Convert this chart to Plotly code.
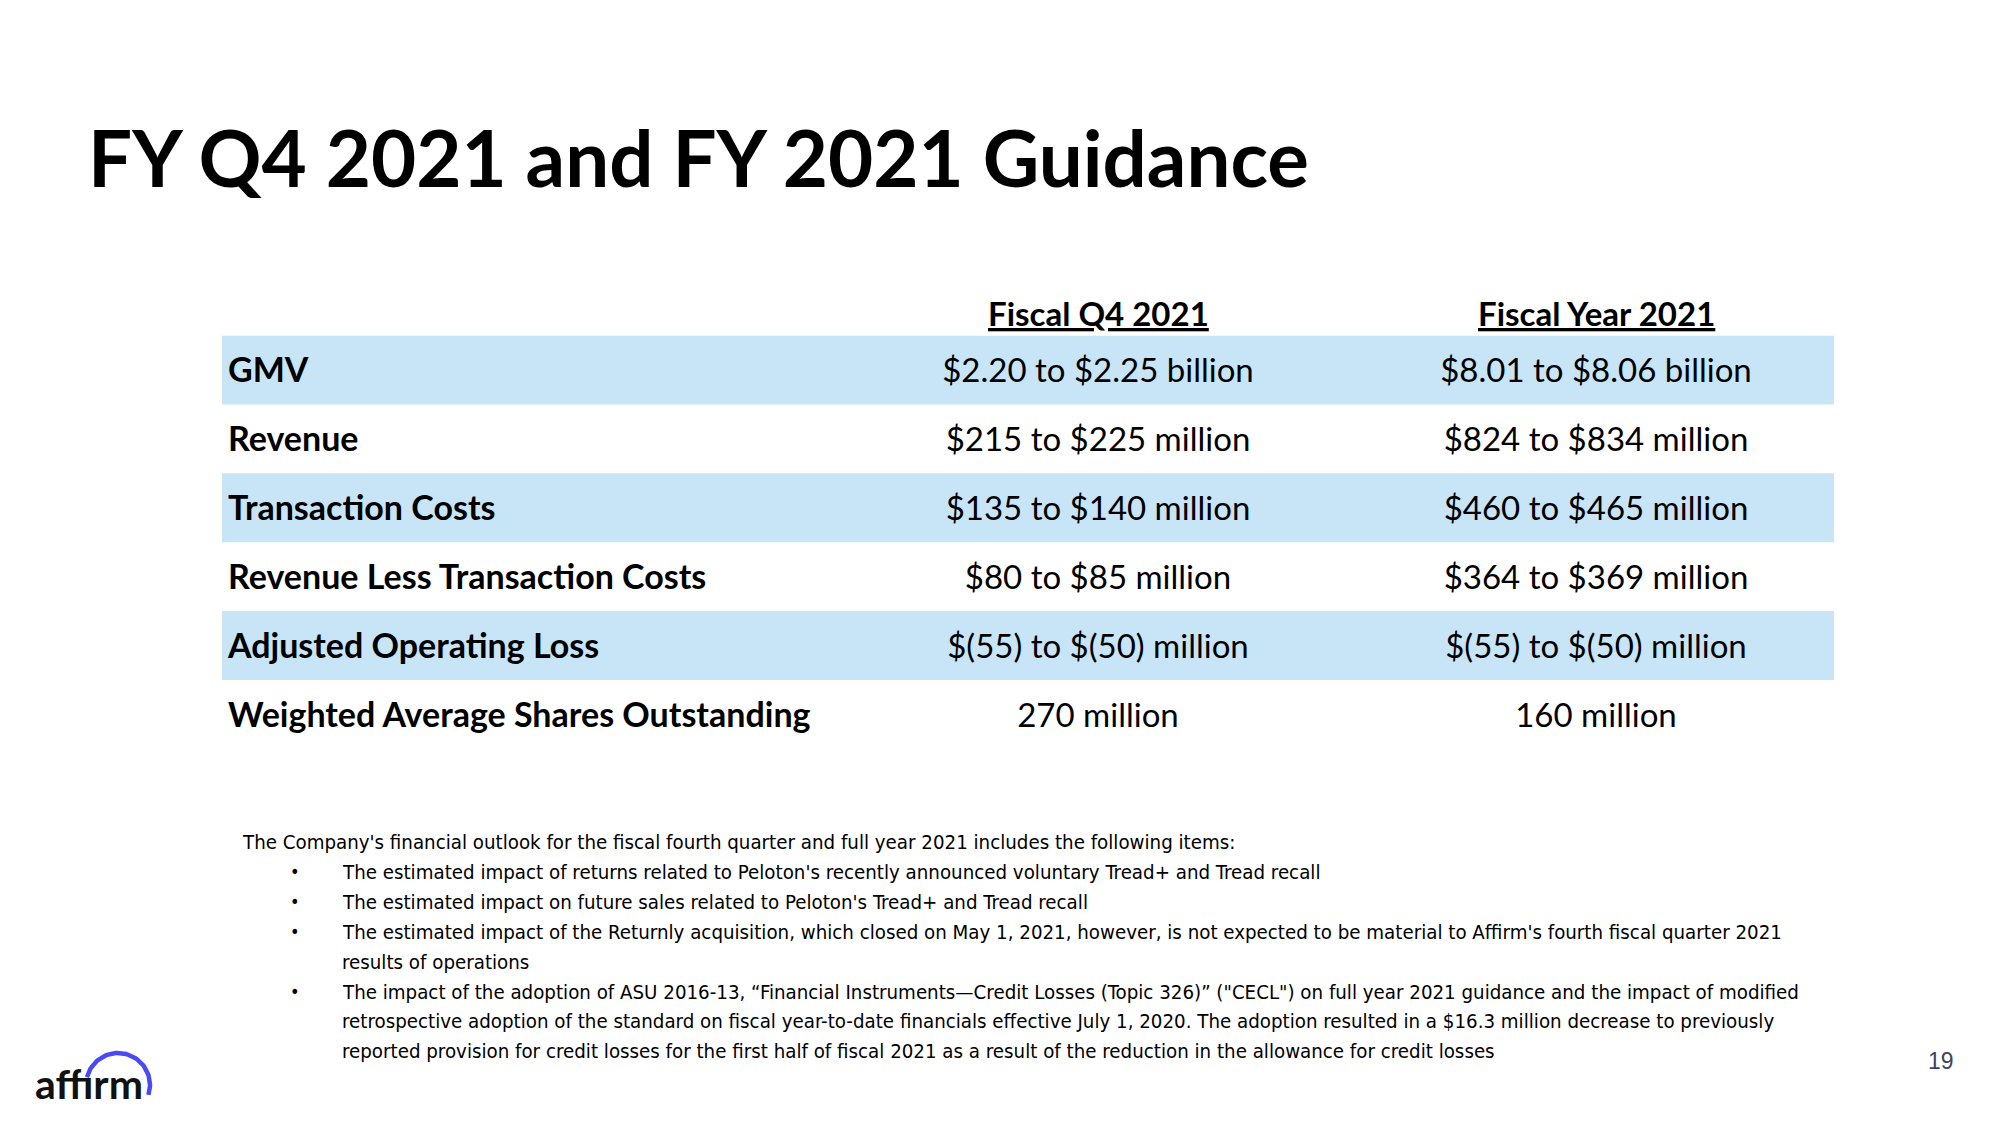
import numpy as np
import plotly.graph_objects as go

# ---------------- data ----------------
title = "FY Q4 2021 and FY 2021 Guidance"
col_headers = ["Fiscal Q4 2021", "Fiscal Year 2021"]
metrics = ["GMV", "Revenue", "Transaction Costs", "Revenue Less Transaction Costs",
           "Adjusted Operating Loss", "Weighted Average Shares Outstanding"]
q4_2021 = ["$2.20 to $2.25 billion", "$215 to $225 million", "$135 to $140 million",
           "$80 to $85 million", "$(55) to $(50) million", "270 million"]
fy_2021 = ["$8.01 to $8.06 billion", "$824 to $834 million", "$460 to $465 million",
           "$364 to $369 million", "$(55) to $(50) million", "160 million"]
intro = "The Company's financial outlook for the fiscal fourth quarter and full year 2021 includes the following items:"
bullets = [
    ["The estimated impact of returns related to Peloton's recently announced voluntary Tread+ and Tread recall"],
    ["The estimated impact on future sales related to Peloton's Tread+ and Tread recall"],
    ["The estimated impact of the Returnly acquisition, which closed on May 1, 2021, however, is not expected to be material to Affirm's fourth fiscal quarter 2021",
     "results of operations"],
    ["The impact of the adoption of ASU 2016-13, \u201cFinancial Instruments\u2014Credit Losses (Topic 326)\u201d (\"CECL\") on full year 2021 guidance and the impact of modified",
     "retrospective adoption of the standard on fiscal year-to-date financials effective July 1, 2020. The adoption resulted in a $16.3 million decrease to previously",
     "reported provision for credit losses for the first half of fiscal 2021 as a result of the reduction in the allowance for credit losses"],
]
page_number = "19"

# ---------------- style / layout constants ----------------
W, H = 2000, 1125
BLUE = "#C8E5F8"
HEAD_FONT = "Lato, 'Open Sans', sans-serif"
NOTE_FONT = "'Liberation Sans Narrow', 'DejaVu Sans Condensed', 'Arial Narrow', sans-serif"

TBL_LEFT, TBL_RIGHT = 222, 1834
TBL_TOP, ROW_H = 335.5, 68.9
TBL_W = TBL_RIGHT - TBL_LEFT
LABEL_X, COL2_X, COL3_X = 6, 876, 1374   # inside the table, px from its left edge
TEXT_SHIFT = 4                            # px: baseline tweak for row text
n = len(metrics)
TBL_BOTTOM = TBL_TOP + n * ROW_H

fig = go.Figure()

# ---- table rows: bands drawn as horizontal bars on a categorical axis ----
row_fill = [BLUE if i % 2 == 0 else "rgba(255,255,255,0)" for i in range(n)]
fig.add_trace(go.Bar(
    y=metrics, x=[TBL_W] * n, base=0, orientation="h", width=1,
    marker=dict(color=row_fill, line=dict(width=0)),
    xaxis="x2", yaxis="y2", hoverinfo="skip", showlegend=False,
))
fig.add_trace(go.Scatter(
    y=metrics, x=[LABEL_X] * n, mode="text", text=[f"<b>{m}</b>" for m in metrics],
    textposition="middle right", cliponaxis=False,
    textfont=dict(family=HEAD_FONT, size=34, color="#000000"),
    xaxis="x2", yaxis="y3", hoverinfo="skip", showlegend=False,
))
for xpos, vals in ((COL2_X, q4_2021), (COL3_X, fy_2021)):
    fig.add_trace(go.Scatter(
        y=metrics, x=[xpos] * n, mode="text", text=vals,
        textposition="middle center", cliponaxis=False,
        textfont=dict(family=HEAD_FONT, size=33, color="#000000"),
        xaxis="x2", yaxis="y3", hoverinfo="skip", showlegend=False,
    ))

# ---- logo arc on full-page pixel axes ----
theta = np.linspace(np.deg2rad(166), np.deg2rad(-18), 60)
cx, cy, r = 118, 1085, 32
fig.add_trace(go.Scatter(x=cx + r * np.cos(theta), y=cy - r * np.sin(theta), mode="lines",
                         line=dict(color="#4A4AF4", width=4.5), hoverinfo="skip",
                         showlegend=False, cliponaxis=False))

cat_axis = dict(type="category", categoryorder="array", categoryarray=metrics,
                range=[n - 0.5, -0.5], anchor="x2", visible=False, fixedrange=True)
fig.update_layout(
    xaxis=dict(range=[0, W], domain=[0, 1], visible=False, fixedrange=True),
    yaxis=dict(range=[H, 0], domain=[0, 1], visible=False, fixedrange=True),
    xaxis2=dict(range=[0, TBL_W], domain=[TBL_LEFT / W, TBL_RIGHT / W], anchor="y2",
                visible=False, fixedrange=True),
    yaxis2=dict(cat_axis, domain=[1 - TBL_BOTTOM / H, 1 - TBL_TOP / H]),
    yaxis3=dict(cat_axis,
                domain=[1 - (TBL_BOTTOM + TEXT_SHIFT) / H, 1 - (TBL_TOP + TEXT_SHIFT) / H]),
)

annotations = []
annotations.append(dict(x=86, y=157, xref="x", yref="y", xanchor="left", yanchor="middle",
                        text=f"<b>{title}</b>", showarrow=False,
                        font=dict(family=HEAD_FONT, size=78, color="#000000", weight=900)))

# column headers (underlined)
for xpos, h in zip((COL2_X, COL3_X), col_headers):
    annotations.append(dict(x=xpos, y=313, xref="x2", yref="y", xanchor="center",
                            yanchor="middle", text=f"<b><u>{h}</u></b>", showarrow=False,
                            font=dict(family=HEAD_FONT, size=33, color="#000000")))

# notes
line_h = 29.9
y0 = 842
annotations.append(dict(x=240, y=y0, xref="x", yref="y", xanchor="left", yanchor="middle",
                        text=intro, showarrow=False,
                        font=dict(family=NOTE_FONT, size=20.3, color="#000000")))
k = 1
for b in bullets:
    annotations.append(dict(x=295, y=y0 + k * line_h, xref="x", yref="y", xanchor="center",
                            yanchor="middle", text="\u2022", showarrow=False,
                            font=dict(family=NOTE_FONT, size=18, color="#000000")))
    for ln in b:
        annotations.append(dict(x=340, y=y0 + k * line_h, xref="x", yref="y", xanchor="left",
                                yanchor="middle", text=ln, showarrow=False,
                                font=dict(family=NOTE_FONT, size=20.3, color="#000000")))
        k += 1

# logo text
annotations.append(dict(x=33, y=1083, xref="x", yref="y", xanchor="left", yanchor="middle",
                        text="aff\u0131rm", showarrow=False,
                        font=dict(family=HEAD_FONT, size=41, color="#111111", weight=700)))
# page number
annotations.append(dict(x=1941, y=1061, xref="x", yref="y", xanchor="center", yanchor="middle",
                        text=page_number, showarrow=False,
                        font=dict(family="'Liberation Sans', Arial, sans-serif", size=23,
                                  color="#3C4660")))

fig.update_layout(
    width=W, height=H,
    margin=dict(l=0, r=0, t=0, b=0, pad=0),
    paper_bgcolor="white", plot_bgcolor="rgba(0,0,0,0)",
    showlegend=False,
    annotations=annotations,
)

fig.write_html("out.html", config={"displayModeBar": False, "staticPlot": True},
               post_script="document.body.style.margin='0';document.body.style.overflow='hidden';")
